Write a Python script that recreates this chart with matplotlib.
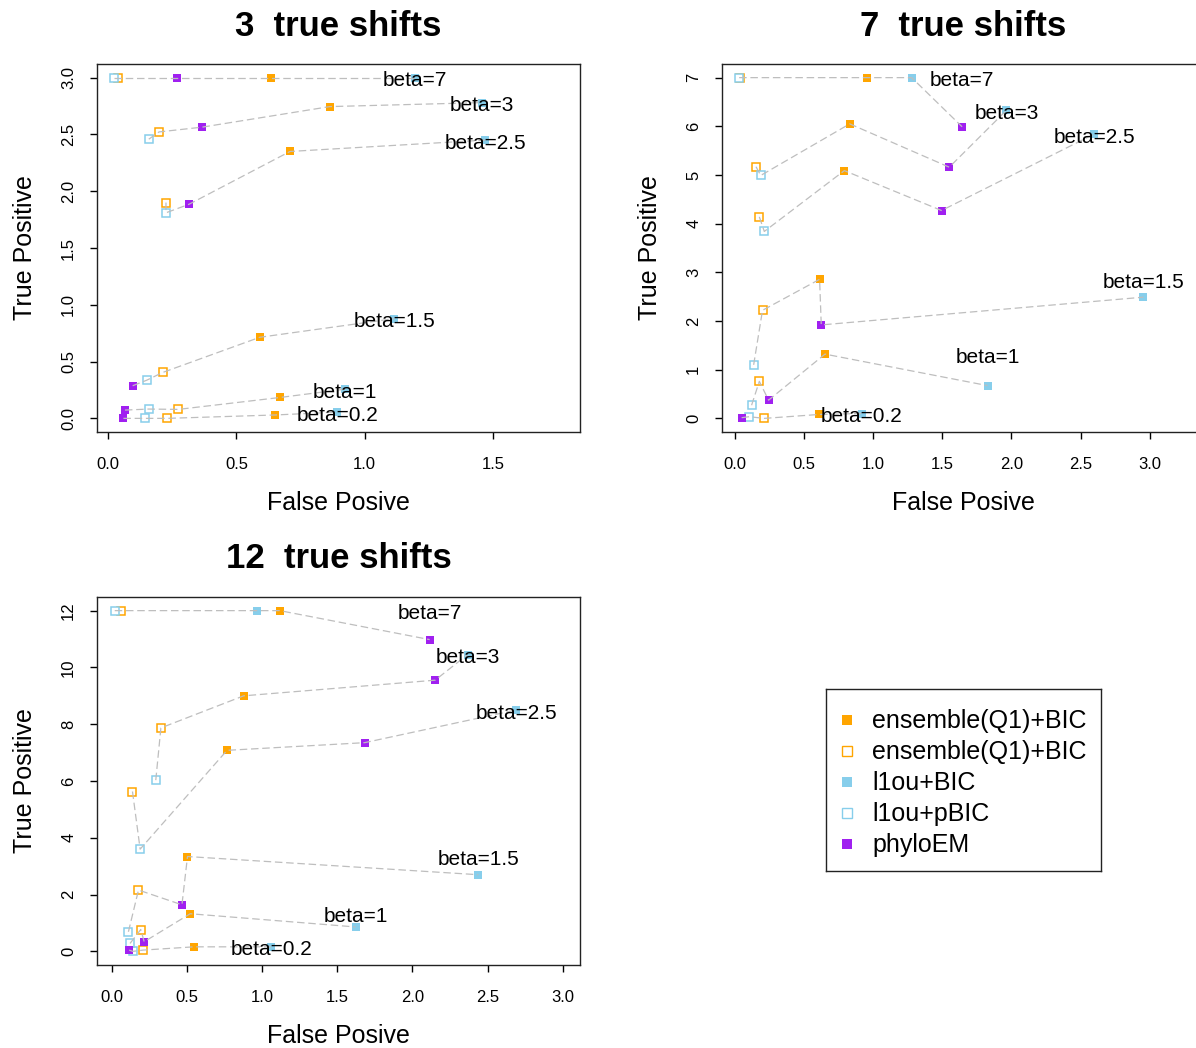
import matplotlib
matplotlib.use("Agg")
import matplotlib.pyplot as plt
import matplotlib.transforms as mtransforms
import numpy as np

plt.rcParams['font.family'] = ['Liberation Sans', 'DejaVu Sans']

W, H = 1196, 1048

betas = [0.2, 1, 1.5, 2.5, 3, 7]
methods = ["ensemble(Q1)+BIC", "ensemble(Q1)+BIC", "l1ou+BIC", "l1ou+pBIC", "phyloEM"]
colors = ["#FFA500", "#FFA500", "#87CEEB", "#87CEEB", "#A020F0"]
filled = [True, False, True, False, True]

# false positives (x) and true positives (y), one value per beta
# --- 3 true shifts
fp3 = [
    [0.652, 0.670, 0.591, 0.709, 0.864, 0.635],   # ensemble BIC
    [0.229, 0.273, 0.212, 0.225, 0.198, 0.039],   # ensemble pBIC
    [0.893, 0.924, 1.115, 1.470, 1.457, 1.197],   # l1ou BIC
    [0.144, 0.158, 0.150, 0.225, 0.158, 0.022],   # l1ou pBIC
    [0.059, 0.065, 0.095, 0.315, 0.366, 0.269],   # phyloEM
]
tp3 = [
    [0.03, 0.184, 0.714, 2.35, 2.745, 3.0],
    [0.0, 0.079, 0.404, 1.90, 2.522, 3.0],
    [0.055, 0.257, 0.878, 2.45, 2.78, 3.0],
    [0.0, 0.082, 0.336, 1.81, 2.458, 3.0],
    [0.0, 0.073, 0.287, 1.885, 2.564, 3.0],
]
# --- 7 true shifts
fp7 = [
    [0.607, 0.651, 0.612, 0.791, 0.830, 0.957],
    [0.212, 0.176, 0.199, 0.176, 0.152, 0.036],
    [0.916, 1.827, 2.955, 2.598, 1.964, 1.278],
    [0.103, 0.120, 0.135, 0.212, 0.186, 0.030],
    [0.048, 0.243, 0.624, 1.494, 1.550, 1.643],
]
tp7 = [
    [0.08, 1.32, 2.857, 5.09, 6.05, 7.0],
    [0.0, 0.76, 2.22, 4.14, 5.17, 7.0],
    [0.10, 0.673, 2.49, 5.84, 6.33, 7.0],
    [0.034, 0.27, 1.10, 3.84, 4.99, 7.0],
    [0.014, 0.374, 1.92, 4.27, 5.16, 5.99],
]
# --- 12 true shifts
fp12 = [
    [0.547, 0.522, 0.504, 0.767, 0.878, 1.118],
    [0.209, 0.193, 0.178, 0.138, 0.327, 0.060],
    [1.060, 1.622, 2.438, 2.690, 2.367, 0.965],
    [0.140, 0.122, 0.111, 0.189, 0.293, 0.020],
    [0.116, 0.216, 0.467, 1.682, 2.151, 2.115],
]
tp12 = [
    [0.16, 1.325, 3.34, 7.08, 9.0, 12.0],
    [0.045, 0.77, 2.16, 5.63, 7.87, 12.0],
    [0.16, 0.86, 2.70, 8.50, 10.45, 12.0],
    [0.0, 0.28, 0.69, 3.6, 6.03, 12.0],
    [0.045, 0.34, 1.64, 7.35, 9.55, 10.98],
]

titles = ["3  true shifts", "7  true shifts", "12  true shifts"]
xticks = [[0, 0.5, 1.0, 1.5], [0, 0.5, 1, 1.5, 2, 2.5, 3], [0, 0.5, 1, 1.5, 2, 2.5, 3]]
yticks = [[0, 0.5, 1, 1.5, 2, 2.5, 3], [0, 1, 2, 3, 4, 5, 6, 7], [0, 2, 4, 6, 8, 10, 12]]
yfmt = ["{:.1f}", "{:.0f}", "{:.0f}"]
xlims = [(-0.044, 1.84), (-0.094, 3.40), (-0.098, 3.115)]
ylims = [(-0.12, 3.12), (-0.28, 7.28), (-0.48, 12.48)]
boxes = [(97, 64, 580, 432), (722, 64, 1205, 432), (97, 597, 580, 965)]

fig = plt.figure(figsize=(W / 100, H / 100), dpi=100)


def px_axes(l, t, r, b):
    return fig.add_axes([l / W, 1 - b / H, (r - l) / W, (b - t) / H])


for k, (fp, tp) in enumerate([(fp3, tp3), (fp7, tp7), (fp12, tp12)]):
    ax = px_axes(*boxes[k])
    lab_tr = mtransforms.offset_copy(ax.transData, fig=fig, x=0, y=-2.2, units='points')
    for m in range(len(methods)):
        if filled[m]:
            ax.plot(fp[m], tp[m], 's', ms=6.0, color=colors[m], mew=0, zorder=2)
        else:
            ax.plot(fp[m], tp[m], 's', ms=5.4, mfc='white', mec=colors[m], mew=1.1, zorder=2)
    for j, b in enumerate(betas):
        xs = np.array([fp[m][j] for m in range(len(methods))])
        ys = np.array([tp[m][j] for m in range(len(methods))])
        order = np.argsort(xs)
        ax.plot(xs[order], ys[order], color='#BEBEBE', lw=0.9, dashes=(6, 3), zorder=3)
        ax.text(xs.max(), ys.max(), "beta={:g}".format(b), fontsize=15,
                ha='center', va='center', zorder=4, transform=lab_tr)
    ax.set_xlim(*xlims[k])
    ax.set_ylim(*ylims[k])
    ax.set_xticks(xticks[k])
    ax.set_xticklabels(["{:.1f}".format(v) for v in xticks[k]])
    ax.set_yticks(yticks[k])
    ax.set_yticklabels([yfmt[k].format(v) for v in yticks[k]], rotation=90, va='center')
    ax.tick_params(direction='out', length=5, width=1, labelsize=12, colors='black')
    ax.tick_params(axis='x', pad=13)
    ax.tick_params(axis='y', pad=10)
    for s in ax.spines.values():
        s.set_linewidth(1.0)
        s.set_color('#222222')
    ax.set_xlabel("False Posive", fontsize=18)
    ax.xaxis.set_label_coords(0.5, -71 / 368)
    ax.xaxis.label.set_va('center')
    ax.set_ylabel("True Positive", fontsize=18)
    ax.yaxis.set_label_coords(-72 / 483, 0.5)
    ax.yaxis.label.set_va('center')
    ax.text(0.5, 1 + 38 / 368, titles[k], transform=ax.transAxes, ha='center',
            va='center', fontsize=25, fontweight='bold')

# legend box
lg = px_axes(826, 689, 1101, 871)
lg.set_xlim(0, 275)
lg.set_ylim(182, 0)
lg.set_xticks([])
lg.set_yticks([])
for s in lg.spines.values():
    s.set_linewidth(1.0)
    s.set_color('#222222')
for m in range(len(methods)):
    y = 31 + 31 * m
    if filled[m]:
        lg.plot([21], [y], 's', ms=7.5, color=colors[m], mew=0)
    else:
        lg.plot([21], [y], 's', ms=7.0, mfc='white', mec=colors[m], mew=1.0)
    lg.text(46, y + 1, methods[m], fontsize=18, ha='left', va='center')

fig.savefig("out.png", dpi=100)
